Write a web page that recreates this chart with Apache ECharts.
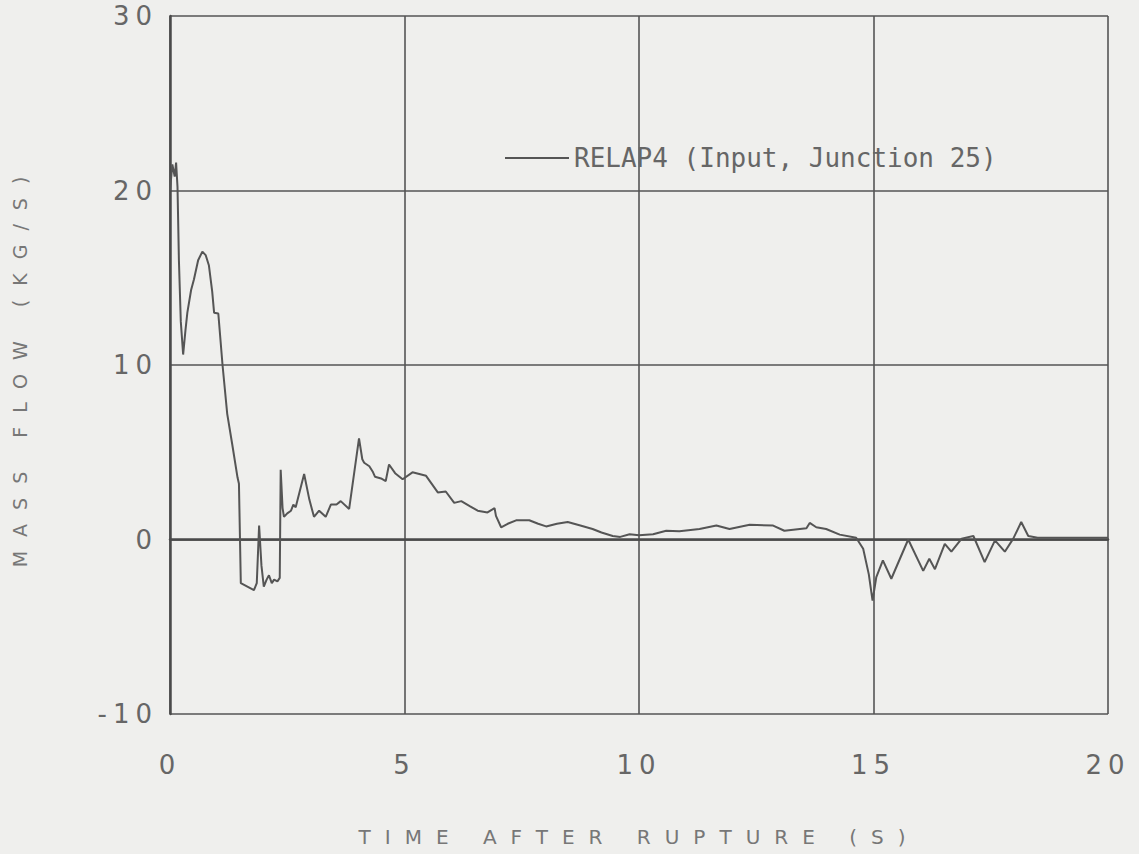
<!DOCTYPE html>
<html>
<head>
<meta charset="utf-8">
<script src="https://cdn.jsdelivr.net/npm/echarts@6/dist/echarts.min.js"></script>
<style>
  html, body { margin: 0; padding: 0; background: #efefed; }
  #chart { width: 1139px; height: 854px; }
  text[style*="Tahoma"], text[font-family*="Tahoma"] { letter-spacing: 6px; }
  text[style*="Verdana"], text[font-family*="Verdana"] { letter-spacing: 14px; }
</style>
</head>
<body>
<div id="chart"></div>
<script>
// ---- data ----
const seriesName = 'RELAP4 (Input, Junction 25)';
const xTicks = [0, 5, 10, 15, 20];
const yTicks = [-10, 0, 10, 20, 30];
const time = [
  0, 0.05, 0.1, 0.13, 0.16, 0.19, 0.23, 0.28, 0.33, 0.37, 0.45, 0.51, 0.6, 0.69, 0.76, 0.83, 0.9, 0.94,
  1.03, 1.12, 1.22, 1.33, 1.44, 1.47, 1.51, 1.58, 1.65, 1.72, 1.79, 1.85, 1.9, 1.95, 2.0, 2.06, 2.11,
  2.17, 2.22, 2.29, 2.34, 2.36, 2.4, 2.43, 2.5, 2.58, 2.63, 2.68, 2.86, 2.97, 3.07, 3.18, 3.32, 3.43,
  3.55, 3.64, 3.82, 4.03, 4.1, 4.14, 4.25, 4.32, 4.37, 4.5, 4.6, 4.67, 4.8, 4.96, 5.17, 5.46, 5.71,
  5.88, 6.06, 6.21, 6.4, 6.56, 6.77, 6.92, 6.95, 7.06, 7.2, 7.38, 7.66, 7.85, 8.02, 8.25, 8.48, 8.75,
  9.01, 9.2, 9.44, 9.6, 9.8, 10.0, 10.3, 10.58, 10.86, 11.29, 11.65, 11.93, 12.36, 12.86, 13.1, 13.57,
  13.64, 13.78, 13.99, 14.28, 14.63, 14.78, 14.9, 14.98, 15.06, 15.2, 15.38, 15.74, 16.06, 16.19,
  16.31, 16.52, 16.66, 16.88, 17.13, 17.37, 17.59, 17.8, 17.98, 18.15, 18.3, 18.5, 20
];
const massFlow = [
  20.0, 21.5, 20.8, 21.6, 20.2, 16.0, 12.5, 10.6, 12.0, 13.0, 14.3, 14.9, 16.0, 16.5, 16.3, 15.7, 14.2, 13.0,
  12.95, 10.0, 7.2, 5.4, 3.55, 3.2, -2.5, -2.6, -2.7, -2.8, -2.9, -2.5, 0.8, -1.5, -2.7, -2.3, -2.05,
  -2.5, -2.3, -2.4, -2.2, 4.0, 1.8, 1.3, 1.5, 1.65, 2.0, 1.85, 3.75, 2.3, 1.3, 1.65, 1.3, 2.0,
  2.0, 2.2, 1.75, 5.8, 4.6, 4.4, 4.2, 3.9, 3.6, 3.5, 3.35, 4.3, 3.8, 3.45, 3.85, 3.65, 2.7,
  2.75, 2.1, 2.2, 1.9, 1.65, 1.55, 1.8, 1.35, 0.7, 0.9, 1.1, 1.1, 0.9, 0.75, 0.9, 1.0, 0.8,
  0.6, 0.4, 0.2, 0.15, 0.3, 0.25, 0.3, 0.5, 0.47, 0.6, 0.8, 0.6, 0.85, 0.8, 0.5, 0.65,
  0.95, 0.7, 0.6, 0.28, 0.1, -0.53, -2.0, -3.5, -2.15, -1.2, -2.25, 0.0, -1.8, -1.1,
  -1.7, -0.25, -0.7, 0.05, 0.2, -1.3, -0.05, -0.7, 0.05, 1.0, 0.2, 0.1, 0.1
];
const xAxisTitle = 'TIME AFTER RUPTURE (S)';
const yAxisTitle = 'MASS FLOW (KG/S)';

const points = time.map((t, i) => [t, massFlow[i]]);

const ink = '#4a4a4a';
const tickFont = "Tahoma, 'DejaVu Sans', sans-serif";
const nameFont = "Verdana, 'DejaVu Sans', sans-serif";

const chart = echarts.init(document.getElementById('chart'), null, { renderer: 'svg' });
chart.setOption({
  backgroundColor: '#efefed',
  animation: false,
  grid: { left: 170, right: 31, top: 16, bottom: 140 },
  legend: {
    data: [seriesName],
    left: 500,
    top: 140,
    icon: 'rect',
    itemWidth: 64,
    itemHeight: 2,
    itemStyle: { color: '#555' },
    textStyle: { fontFamily: "'DejaVu Sans Mono', monospace", fontSize: 26, color: '#666' }
  },
  xAxis: {
    type: 'value',
    min: xTicks[0],
    max: xTicks[xTicks.length - 1],
    interval: xTicks[1] - xTicks[0],
    name: xAxisTitle,
    nameLocation: 'middle',
    nameGap: 113,
    nameTextStyle: { fontFamily: nameFont, fontSize: 20, color: '#777' },
    axisLine: { show: true, lineStyle: { color: ink, width: 2.5 } },
    axisTick: { show: false },
    axisLabel: { margin: 38, fontFamily: tickFont, fontSize: 26, color: '#666' },
    splitLine: { show: true, lineStyle: { color: '#555', width: 1.6 } }
  },
  yAxis: {
    type: 'value',
    min: yTicks[0],
    max: yTicks[yTicks.length - 1],
    interval: yTicks[1] - yTicks[0],
    name: yAxisTitle,
    nameLocation: 'middle',
    nameGap: 141,
    nameTextStyle: { fontFamily: nameFont, fontSize: 19, color: '#777' },
    axisLine: { show: true, lineStyle: { color: ink, width: 2.5 } },
    axisTick: { show: false },
    axisLabel: { margin: 12, fontFamily: tickFont, fontSize: 26, color: '#666' },
    splitLine: { show: true, lineStyle: { color: '#555', width: 1.6 } }
  },
  series: [{
    name: seriesName,
    type: 'line',
    data: points,
    symbol: 'none',
    lineStyle: { color: '#555', width: 2 },
    itemStyle: { color: '#555' },
    z: 3
  }]
});
</script>
</body>
</html>
